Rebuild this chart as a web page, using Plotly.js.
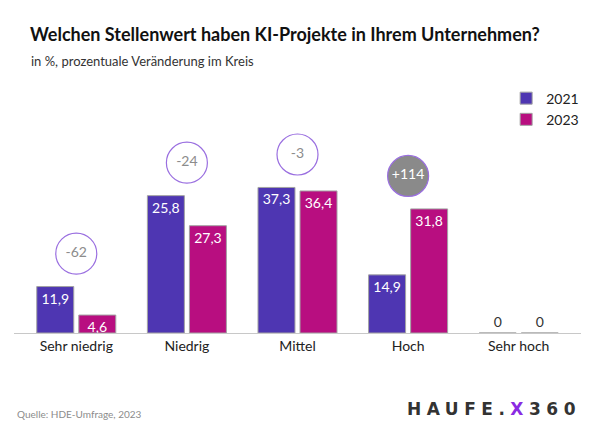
<!DOCTYPE html>
<html><head><meta charset="utf-8">
<script src="https://cdn.plot.ly/plotly-3.0.1.min.js"></script>
<style>html,body{margin:0;padding:0;background:#fff}#chart{width:600px;height:435px}</style>
</head><body><div id="chart"></div>
<script>
const categories = ["Sehr niedrig", "Niedrig", "Mittel", "Hoch", "Sehr hoch"];
// bar heights as drawn in the picture
const values2021 = [11.9, 35.2, 37.3, 14.9, 0];
const values2023 = [4.6, 27.5, 36.4, 31.8, 0];
// printed labels
const labels2021 = ["11,9", "25,8", "37,3", "14,9", "0"];
const labels2023 = ["4,6", "27,3", "36,4", "31,8", "0"];
// change in percent (circles)
const changeCats = ["Sehr niedrig", "Niedrig", "Mittel", "Hoch"];
const changeLabels = ["-62", "-24", "-3", "+114"];

const pxPerUnit = 3.91;
const circleOffset = 33 / pxPerUnit;
const circleY = changeCats.map((c) => {
  const i = categories.indexOf(c);
  return Math.max(values2021[i], values2023[i]) + circleOffset;
});
const circleFill = changeLabels.map(l => l.startsWith("+1") ? "#8a8a8a" : "rgba(255,255,255,1)");
const circleText = changeLabels.map(l => l.startsWith("+1") ? "#ffffff" : "#8c8c8c");

function barTrace(name, vals, labels, color) {
  return {
    type: "bar", name: name, x: categories, y: vals, text: labels,
    textposition: vals.map(v => v > 0 ? "inside" : "outside"),
    insidetextanchor: "end",
    textfont: {family: "Lato", size: 14, color: vals.map(v => v > 0 ? "#ffffff" : "#333333")},
    outsidetextfont: {family: "Lato", size: 14, color: "#333333"},
    marker: {color: color, line: {color: "#a3a3a3", width: 1}},
    cliponaxis: false,
    hoverinfo: "none"
  };
}

const data = [
  barTrace("2021", values2021, labels2021, "#4e36b2"),
  barTrace("2023", values2023, labels2023, "#b80e80"),
  {
    type: "scatter", mode: "markers+text", x: changeCats, y: circleY,
    text: changeLabels, textposition: "middle center",
    textfont: {family: "Lato", size: 14, color: circleText},
    marker: {size: 41, color: circleFill, line: {color: "#9a6fe0", width: 1.2}},
    showlegend: false, hoverinfo: "none", cliponaxis: false
  }
];

const plotTop = 80, plotBottom = 333.5;
const yTop = (plotBottom - plotTop) / pxPerUnit;

const layout = {
  width: 600, height: 435,
  margin: {l: 14, r: 19, t: plotTop, b: 435 - plotBottom, pad: 0},
  paper_bgcolor: "#ffffff", plot_bgcolor: "#ffffff",
  font: {family: "Lato", color: "#222222"},
  uniformtext: {mode: "show", minsize: 14},
  title: {
    text: "<b>Welchen Stellenwert haben KI-Projekte in Ihrem Unternehmen?</b>",
    font: {family: "Lato", size: 18, color: "#111111"},
    x: 30 / 600, xanchor: "left", y: 1 - 35 / 435, yanchor: "middle"
  },
  barmode: "group", bargap: 0.24, bargroupgap: 0.12,
  showlegend: true,
  legend: {
    x: 0.868, xanchor: "left", y: 0.99, yanchor: "top",
    font: {family: "Lato", size: 14, color: "#222222"},
    bgcolor: "rgba(0,0,0,0)", traceorder: "normal", itemclick: false
  },
  xaxis: {
    type: "category", range: [-0.563, 4.563],
    showline: true, linecolor: "#c8c8c8", linewidth: 1,
    ticks: "", showgrid: false, zeroline: false,
    tickfont: {family: "Lato", size: 14, color: "#222222"}
  },
  yaxis: {
    range: [0, yTop], visible: false, showgrid: false, zeroline: false, fixedrange: true
  },
  annotations: [
    {text: "in %, prozentuale Veränderung im Kreis", xref: "paper", yref: "paper",
     x: (29 - 14) / 567, xanchor: "left", y: 1 + (plotTop - 61) / (plotBottom - plotTop), yanchor: "middle",
     showarrow: false, font: {family: "Lato", size: 13, color: "#333333"}},
    {text: "Quelle: HDE-Umfrage, 2023", xref: "paper", yref: "paper",
     x: (15 - 14) / 567, xanchor: "left", y: -(415 - plotBottom) / (plotBottom - plotTop), yanchor: "middle",
     showarrow: false, font: {family: "Lato", size: 10, color: "#8c8c8c"}},
    {text: "<span style='letter-spacing:5.5px'>HAUFE.</span><span style='color:#8a2be2;letter-spacing:5.5px'>X</span><span style='letter-spacing:5.5px'>360</span>",
     xref: "paper", yref: "paper",
     x: (583 - 14) / 567, xanchor: "right", y: -(410 - plotBottom) / (plotBottom - plotTop), yanchor: "middle",
     showarrow: false, font: {family: "DejaVu Sans", size: 17, color: "#333333", weight: "bold"}}
  ]
};

Plotly.newPlot("chart", data, layout, {staticPlot: true, displayModeBar: false});
</script>
</body></html>
